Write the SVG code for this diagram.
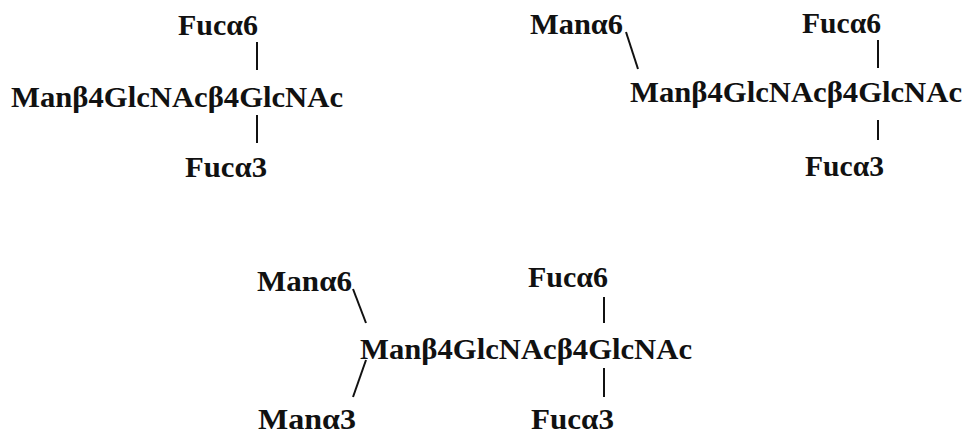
<svg xmlns="http://www.w3.org/2000/svg" width="964" height="434" viewBox="0 0 964 434">
  <style>
    text { font-family: "Liberation Serif", "Times New Roman", serif; font-weight: bold; font-size: 30px; fill: #111; }
    .link { stroke: #111; stroke-width: 2; fill: none; }
  </style>
  <rect width="964" height="434" fill="#fff"/>

  <!-- structure 1 -->
  <g id="core1"><text x="11" y="107" textLength="332" lengthAdjust="spacingAndGlyphs">Manβ4GlcNAcβ4GlcNAc</text></g>
  <g id="fuc6a"><text x="178" y="35" textLength="80" lengthAdjust="spacingAndGlyphs">Fucα6</text></g>
  <g id="fuc3a"><text x="185" y="177" textLength="82" lengthAdjust="spacingAndGlyphs">Fucα3</text></g>

  <!-- structure 2 -->
  <g id="man6b"><text x="530" y="34" textLength="93" lengthAdjust="spacingAndGlyphs">Manα6</text></g>
  <g id="core2"><text x="630" y="102" textLength="332" lengthAdjust="spacingAndGlyphs">Manβ4GlcNAcβ4GlcNAc</text></g>
  <g id="fuc6b"><text x="802" y="33" textLength="79" lengthAdjust="spacingAndGlyphs">Fucα6</text></g>
  <g id="fuc3b"><text x="805" y="176" textLength="79" lengthAdjust="spacingAndGlyphs">Fucα3</text></g>

  <!-- structure 3 -->
  <g id="man6c"><text x="257" y="291" textLength="95" lengthAdjust="spacingAndGlyphs">Manα6</text></g>
  <g id="man3c"><text x="258" y="429" textLength="98" lengthAdjust="spacingAndGlyphs">Manα3</text></g>
  <g id="core3"><text x="360" y="359" textLength="332" lengthAdjust="spacingAndGlyphs">Manβ4GlcNAcβ4GlcNAc</text></g>
  <g id="fuc6c"><text x="528" y="287" textLength="80" lengthAdjust="spacingAndGlyphs">Fucα6</text></g>
  <g id="fuc3c"><text x="531" y="429" textLength="83" lengthAdjust="spacingAndGlyphs">Fucα3</text></g>

  <g id="connectors" class="link">
    <line x1="257" y1="42" x2="257" y2="70"/>
    <line x1="257" y1="115" x2="257" y2="143"/>
    <line x1="626" y1="32" x2="638" y2="69"/>
    <line x1="878" y1="40" x2="878" y2="68"/>
    <line x1="878" y1="120" x2="878" y2="140"/>
    <line x1="353" y1="289" x2="366" y2="323"/>
    <line x1="366" y1="360" x2="353" y2="397"/>
    <line x1="604" y1="297" x2="604" y2="323"/>
    <line x1="604" y1="368" x2="604" y2="397"/>
  </g>
</svg>
